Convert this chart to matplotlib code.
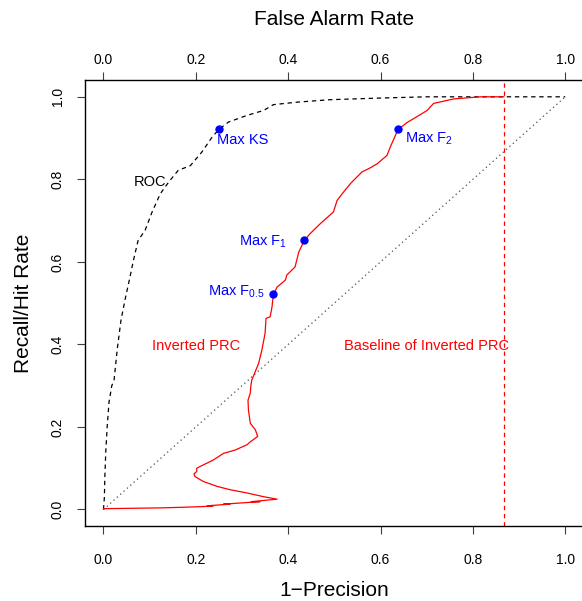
import matplotlib
matplotlib.use("Agg")
import matplotlib.pyplot as plt

plt.rcParams['font.family'] = ['Liberation Sans', 'DejaVu Sans']
plt.rcParams['mathtext.default'] = 'regular'

# ROC curve (false alarm rate, hit rate)
roc_far = [0.0, 0.002, 0.003, 0.005, 0.008, 0.012, 0.018, 0.023, 0.030, 0.038, 0.047, 0.056,
           0.065, 0.075, 0.090, 0.105, 0.123, 0.141, 0.162, 0.188, 0.213, 0.235, 0.250,
           0.271, 0.311, 0.347, 0.368, 0.419, 0.491, 0.600, 0.700, 1.0]
roc_hit = [0.0, 0.03, 0.08, 0.14, 0.20, 0.26, 0.30, 0.314, 0.39, 0.459, 0.51, 0.556,
           0.604, 0.652, 0.676, 0.72, 0.765, 0.793, 0.822, 0.833, 0.866, 0.902, 0.921,
           0.939, 0.955, 0.967, 0.981, 0.987, 0.993, 0.997, 1.0, 1.0]

# Inverted precision-recall curve (1 - precision, recall)
prc_x = [0.000, 0.130, 0.188, 0.215, 0.238, 0.225, 0.274, 0.260, 0.300, 0.339, 0.320, 0.376,
         0.347, 0.311, 0.274, 0.246, 0.216, 0.198, 0.196, 0.202, 0.202, 0.216, 0.238, 0.260,
         0.285, 0.311, 0.318, 0.334, 0.329, 0.318, 0.314, 0.313, 0.318, 0.319, 0.321, 0.336,
         0.343, 0.350, 0.352, 0.361, 0.365, 0.368, 0.376, 0.394, 0.397, 0.415, 0.423, 0.435,
         0.448, 0.470, 0.498, 0.506, 0.517, 0.535, 0.560, 0.578, 0.593, 0.614, 0.621, 0.638,
         0.658, 0.679, 0.701, 0.715, 0.759, 0.817, 0.867]
prc_y = [0.002, 0.004, 0.006, 0.007, 0.009, 0.009, 0.013, 0.013, 0.016, 0.019, 0.019, 0.025,
         0.031, 0.040, 0.048, 0.056, 0.068, 0.080, 0.086, 0.092, 0.100, 0.108, 0.120, 0.136,
         0.144, 0.157, 0.164, 0.177, 0.193, 0.209, 0.241, 0.265, 0.282, 0.298, 0.313, 0.354,
         0.386, 0.427, 0.463, 0.467, 0.491, 0.521, 0.539, 0.556, 0.568, 0.588, 0.624, 0.652,
         0.669, 0.693, 0.721, 0.749, 0.765, 0.790, 0.818, 0.828, 0.838, 0.858, 0.878, 0.921,
         0.938, 0.952, 0.967, 0.984, 0.995, 1.0, 1.0]

baseline = 0.867

# Highlighted points
pt_names = ['Max KS', 'Max F$_2$', 'Max F$_1$', 'Max F$_{0.5}$']
pt_x = [0.250, 0.638, 0.435, 0.368]
pt_y = [0.921, 0.921, 0.652, 0.521]

ticks = [0.0, 0.2, 0.4, 0.6, 0.8, 1.0]
tick_labels = ['0.0', '0.2', '0.4', '0.6', '0.8', '1.0']

W, H = 582, 601
fig = plt.figure(figsize=(W / 100, H / 100), dpi=100)
left, right, top, bottom = 85, 586, 80.3, 526
ax = fig.add_axes([left / W, 1 - bottom / H, (right - left) / W, (bottom - top) / H])
ax.set_xlim(-0.04, 1.045)
ax.set_ylim(-0.04, 1.04)

ax.plot([0, 1], [0, 1], color='0.3', lw=0.9, linestyle=(0, (1, 2.6)))
ax.plot(roc_far, roc_hit, color='black', lw=0.9, linestyle=(0, (3.5, 3)))
ax.axvline(baseline, color='#FF0000', lw=0.9, linestyle=(0, (3.5, 3)))
ax.plot(prc_x, prc_y, color='#FF0000', lw=0.9)
ax.plot(pt_x, pt_y, 'o', color='#0000FF', ms=5, mec='#0000FF')

fs = 10.5
ax.text(0.2455, 0.886, pt_names[0], color='#0000FF', fontsize=fs, ha='left', va='baseline')
ax.text(0.652, 0.888, pt_names[1], color='#0000FF', fontsize=fs, ha='left', va='baseline')
ax.text(0.397, 0.639, pt_names[2], color='#0000FF', fontsize=fs, ha='right', va='baseline')
ax.text(0.350, 0.518, pt_names[3], color='#0000FF', fontsize=fs, ha='right', va='baseline')
ax.text(0.100, 0.785, 'ROC', color='black', fontsize=fs, ha='center', va='baseline')
ax.text(0.20, 0.386, 'Inverted PRC', color='#FF0000', fontsize=fs, ha='center', va='baseline')
ax.text(0.70, 0.386, 'Baseline of Inverted PRC', color='#FF0000', fontsize=fs, ha='center', va='baseline')

for s in ax.spines.values():
    s.set_linewidth(1.0)
    s.set_color('black')
ax.spines['right'].set_visible(False)

ax.set_xticks(ticks)
ax.set_xticklabels(tick_labels)
ax.set_yticks(ticks)
ax.set_yticklabels(tick_labels)
ax.tick_params(axis='both', direction='out', length=5.8, width=0.8, color='0.25', labelsize=10)
ax.tick_params(axis='x', pad=13.5)
ax.tick_params(axis='y', pad=8.6)
for lab in ax.get_yticklabels():
    lab.set_rotation(90)
    lab.set_verticalalignment('center')

sec = ax.secondary_xaxis('top')
sec.set_xticks(ticks)
sec.set_xticklabels(tick_labels)
sec.tick_params(direction='out', length=5.8, width=0.8, color='0.25', labelsize=10, pad=4)
sec.spines['top'].set_visible(False)

cx = (left + 583.5) / 2 / W
fig.text(cx, 1 - 590 / H, '1\u2212Precision', fontsize=15, ha='center', va='center')
fig.text(cx, 1 - 19.5 / H, 'False Alarm Rate', fontsize=15, ha='center', va='center')
fig.text(23.3 / W, 1 - (top + bottom) / 2 / H, 'Recall/Hit Rate', fontsize=15, ha='center',
         va='center', rotation=90)

fig.savefig('out.png', dpi=100)
